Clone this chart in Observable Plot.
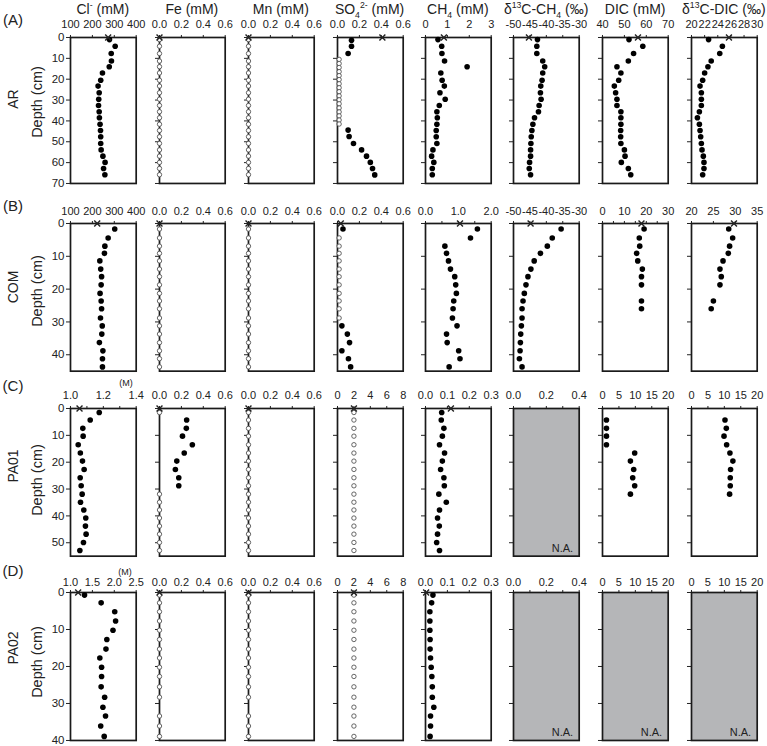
<!DOCTYPE html>
<html><head><meta charset="utf-8">
<script src="https://cdn.jsdelivr.net/npm/d3@7"></script>
<script src="https://cdn.jsdelivr.net/npm/@observablehq/plot@0.6"></script>
<style>
body{margin:0;background:#fff;font-family:"Liberation Sans",Arial,sans-serif;}
#root{position:relative;width:767px;height:746px;overflow:hidden;background:#fff;}
.abs{position:absolute;white-space:nowrap;color:#222;line-height:1;}
.rot{transform:translate(-50%,-50%) rotate(-90deg);}
.ctr{transform:translate(-50%,-50%);}
sup,sub{font-size:0.62em;line-height:0;}
</style></head><body><div id="root"></div>
<script>
// ---------- data ----------
const titles = ["Cl<sup>-</sup> (mM)","Fe (mM)","Mn (mM)","SO<sub>4</sub><sup>2-</sup> (mM)","CH<sub>4</sub> (mM)","δ<sup>13</sup>C-CH<sub>4</sub> (‰)","DIC (mM)","δ<sup>13</sup>C-DIC (‰)"];
const rowLetters = ["(A)","(B)","(C)","(D)"];
const stations = ["AR","COM","PA01","PA02"];

// AR
const depthAR = [1,4.2,7.7,11.3,14,17,20.5,23.3,26.5,29.6,32.6,35.6,38.5,41.6,44.6,47.6,50.8,53.9,56.9,59.9,62.8,65.8];
const clAR = [278,304,286,287,277,246,238,226,231,229,228,231,232,235,237,238,238,240,248,258,251,257];
const so4ARupperDepth = [1.3,4.2,7.7];
const so4ARupper = [0.128,0.128,0.097];
const so4ARopenDepth = [10.5,12.5,14.4,16.4,18.3,20.2,22.2,24.1,26,28,29.9,31.8,33.8,35.7,37.6,39.6,41.5];
const so4ARlowerDepth = [44.4,47.5,50.8,53.9,56.9,59.9,62.8,65.9];
const so4ARlower = [0.097,0.106,0.146,0.22,0.265,0.30,0.32,0.34];
const ch4AR = [0.57,0.74,0.75,0.87,1.9,0.70,0.76,0.86,0.66,0.90,0.63,0.52,0.54,0.52,0.49,0.49,0.52,0.34,0.28,0.38,0.31,0.31];
const d13ch4AR = [-42.7,-42.9,-42.9,-41.1,-40.5,-41.1,-41.3,-41.7,-41.8,-41.6,-42.2,-42.4,-43.6,-44.1,-44.4,-44.6,-44.7,-44.8,-44.8,-45.1,-45.2,-44.8];
const dicAR = [52.1,58.4,54.2,51.8,46.6,48.4,47.4,45.4,46,46.6,46.6,48.4,48.4,48.4,48.3,48.3,48.4,50,50.3,48.6,51.8,52.9];
const d13dicAR = [22.6,24.7,24.3,23,22.5,22,21.7,21.3,21.5,21.5,21.5,21.2,20.9,21.2,21.3,21.4,21.5,21.6,21.8,21.9,21.9,21.7];
const surfAR = [272,0,0,0.41,0.84,-45.3,56.2,25.7];

// COM
const depthCOM = [1.7,4.4,6.9,9.1,11.4,13.9,16.2,18.7,21.3,23.6,26,28.8,31.2,33.7,36.3,38.8,41.2,43.7];
const clCOM = [302,272,257,255,234,238,242,240,235,240,242,237,245,243,232,248,246,246];
const so4COMdepth = [1.7,31.2,33.7,36.3,38.8,41.2,43.7];
const so4COM = [0.05,0.04,0.09,0.11,0.04,0.10,0.12];
const so4COMopenDepth = [4.4,6.9,9.1,11.4,13.9,16.2,18.7,21.3,23.6,26,28.8];
const ch4COM = [1.58,1.37,0.59,0.64,0.70,0.76,0.89,0.92,0.94,0.86,0.84,0.82,0.96,0.64,0.66,1.01,1.05,0.72];
const d13ch4COM = [-35.5,-38.2,-39.7,-41.8,-43.7,-44.7,-45.6,-46.2,-46.7,-47.1,-47.4,-47.4,-47.6,-47.8,-47.9,-48,-48.2,-47.4];
const dicCOMdepth = [1.7,4.4,6.9,9.1,11.4,13.9,16.2,18.7,23.6,26];
const dicCOM = [19,16.8,17,15.6,16.1,18.2,17.8,17.8,17.8,17.8];
const d13dicCOM = [28.5,29.4,28.7,28.4,27.2,26.5,26.8,26.5,25,24.5];
const surfCOM = [222,0,0,0.03,1.05,-44.8,17.8,29.7];

// PA01 (Cl in M)
const depthPA01 = [1.5,4.3,7.4,10.3,13.5,16.6,19.6,22.7,25.8,28.8,31.9,34.9,37.8,40.8,43.8,46.8,49.9,52.9];
const clPA01 = [1.175,1.12,1.075,1.077,1.047,1.06,1.073,1.083,1.059,1.065,1.071,1.061,1.081,1.093,1.091,1.095,1.079,1.057];
const fePA01depth = [4.3,7.4,10.3,13.5,16.6,19.6,22.7,25.8,28.8];
const fePA01 = [0.248,0.245,0.21,0.30,0.226,0.158,0.145,0.176,0.176];
const fePA01openDepth = [1.5,31.9,34.9,37.8,40.8,43.8,46.8,49.9,52.9];
const ch4PA01 = [0.074,0.072,0.084,0.077,0.064,0.087,0.077,0.069,0.084,0.086,0.061,0.095,0.064,0.055,0.063,0.055,0.051,0.064];
const dicPA01depth = [4.3,7.4,10.3,13.5,16.6,19.6,22.7,25.8,28.8,31.9];
const dicPA01 = [1.2,1.2,1.2,1.2,9.8,8.5,9.5,9.2,9.8,8.5];
const d13dicPA01 = [10.2,10.6,9.9,10.7,11.7,12.6,11.9,11.8,11.8,11.6];
const surfPA01 = [1.055,0,0,2,0.116,null,null,null];

// PA02 (Cl in M)
const depthPA02 = [0.7,2.8,5.2,7.7,10.2,12.7,15.3,17.7,20.2,22.7,25.5,28.3,31,33.4,36.1,38.9];
const clPA02 = [1.32,1.70,2.01,2.03,1.97,1.83,1.81,1.67,1.71,1.71,1.70,1.78,1.74,1.80,1.69,1.77];
const feMnPA02openDepth = [0.7,2.8,5.2,7.7,10.2,12.7,15.3,17.7,20.2,22.7,25.5,28.3,33.4,36.1,38.9];
const ch4PA02 = [0.034,0.028,0.02,0.02,0.02,0.021,0.021,0.023,0.026,0.029,0.031,0.031,0.038,0.023,0.023,0.021];
const surfPA02 = [1.175,0,0,2,0.003,null,null,null];

const so4DetLimitLow = 0.015;   // open-circle position in mM panels (A, B)
const so4DetLimitHigh = 2;      // open-circle position in C, D

// ---------- layout ----------
const colLeft = [70,159,248,336.7,425,513.3,602.3,691];
const panelW = 65.7;
const rowTop = [37.3,223.3,408.3,592.3];
const rowH = [146,147.7,147.7,148];
const rowMax = [70,45,55,40];
const rowPad = [6,5,6.5,3];
const yTicks = [[0,10,20,30,40,50,60,70],[0,10,20,30,40],[0,10,20,30,40,50],[0,10,20,30,40]];

const root = document.getElementById("root");
const pts = (vals, depths) => vals.map((v,i)=>({v, d: depths[i]}));
const at = (v, depths) => depths.map(d=>({v, d}));
const f1 = d => d.toFixed(1), f0 = d => String(d);

function addText(html, x, y, cls, size, extra="") {
  const el = document.createElement("div");
  el.className = "abs " + cls;
  el.style.left = x + "px"; el.style.top = y + "px"; el.style.fontSize = size + "px";
  if (extra) el.style.cssText += extra;
  el.innerHTML = html;
  root.appendChild(el);
}

function panel(o) {
  const {row, col, domain, ticks, minor = [], fmt, filled = [], open = [], cross = null, na = false} = o;
  const ml = col === 0 ? 34 : 8, mr = 4, mt = 32, mb = 4;
  const marks = [];
  if (na) marks.push(Plot.frame({fill: "#b5b6b8", stroke: null}));
  marks.push(Plot.axisY({ticks: yTicks[row], tickSize: 4, tickPadding: 2, fontSize: 11.5,
    tickFormat: col === 0 ? d => String(d) : () => "", label: null}));
  const allTicks = ticks.concat(minor);
  marks.push(Plot.axisX({anchor: "top", ticks: allTicks, tickSize: 3, tickPadding: rowPad[row], fontSize: 11,
    tickFormat: d => ticks.includes(d) ? fmt(d) : "", label: null}));
  marks.push(Plot.frame({stroke: "#1a1a1a", strokeWidth: 1.7}));
  if (open.length) marks.push(Plot.dot(open, {x: "v", y: "d", r: 2.2, stroke: "#555", strokeWidth: 0.9, fill: "white"}));
  if (filled.length) marks.push(Plot.dot(filled, {x: "v", y: "d", r: 2.8, fill: "#000"}));
  if (cross != null) marks.push(Plot.dot([{v: cross, d: 0}], {x: "v", y: "d", symbol: "times", r: 2.8, stroke: "#222", strokeWidth: 1.4}));
  if (na) marks.push(Plot.text(["N.A."], {frameAnchor: "bottom-right", dx: -6, dy: -4, fontSize: 11, fill: "#222"}));
  const svg = Plot.plot({
    width: panelW + ml + mr, height: rowH[row] + mt + mb,
    marginLeft: ml, marginRight: mr, marginTop: mt, marginBottom: mb,
    x: {domain}, y: {domain: [0, rowMax[row]], reverse: true},
    style: {fontFamily: "'Liberation Sans', Arial, sans-serif", color: "#222", background: "transparent", overflow: "visible"},
    marks
  });
  svg.style.position = "absolute";
  svg.style.left = (colLeft[col] - ml) + "px";
  svg.style.top = (rowTop[row] - mt) + "px";
  root.appendChild(svg);
}

const mM06 = {domain: [0, 0.6], ticks: [0, 0.2, 0.4, 0.6], fmt: f1};
const d13CH4ax = {domain: [-50, -30], ticks: [-50, -45, -40, -35, -30], fmt: f0};
const na04 = {domain: [0, 0.4], ticks: [0, 0.2, 0.4], minor: [0.1, 0.3], fmt: f1, na: true};
const ax020 = {domain: [0, 20], ticks: [0, 5, 10, 15, 20], fmt: f0};
const so48 = {domain: [0, 8], ticks: [0, 2, 4, 6, 8], fmt: f0};
const ch403 = {domain: [0, 0.3], ticks: [0, 0.1, 0.2, 0.3], fmt: f1};

// Row A: AR
panel({row: 0, col: 0, domain: [100, 400], ticks: [100, 200, 300, 400], fmt: f0, filled: pts(clAR, depthAR), cross: surfAR[0]});
panel({row: 0, col: 1, ...mM06, open: at(0, depthAR), cross: surfAR[1]});
panel({row: 0, col: 2, ...mM06, open: at(0, depthAR), cross: surfAR[2]});
panel({row: 0, col: 3, ...mM06, filled: pts(so4ARupper, so4ARupperDepth).concat(pts(so4ARlower, so4ARlowerDepth)),
  open: at(so4DetLimitLow, so4ARopenDepth), cross: surfAR[3]});
panel({row: 0, col: 4, domain: [0, 3], ticks: [0, 1, 2, 3], fmt: f0, filled: pts(ch4AR, depthAR), cross: surfAR[4]});
panel({row: 0, col: 5, ...d13CH4ax, filled: pts(d13ch4AR, depthAR), cross: surfAR[5]});
panel({row: 0, col: 6, domain: [40, 70], ticks: [40, 50, 60, 70], fmt: f0, filled: pts(dicAR, depthAR), cross: surfAR[6]});
panel({row: 0, col: 7, domain: [20, 30], ticks: [20, 22, 24, 26, 28, 30], fmt: f0, filled: pts(d13dicAR, depthAR), cross: surfAR[7]});

// Row B: COM
panel({row: 1, col: 0, domain: [100, 400], ticks: [100, 200, 300, 400], fmt: f0, filled: pts(clCOM, depthCOM), cross: surfCOM[0]});
panel({row: 1, col: 1, ...mM06, open: at(0, depthCOM), cross: surfCOM[1]});
panel({row: 1, col: 2, ...mM06, open: at(0, depthCOM), cross: surfCOM[2]});
panel({row: 1, col: 3, ...mM06, filled: pts(so4COM, so4COMdepth), open: at(so4DetLimitLow, so4COMopenDepth), cross: surfCOM[3]});
panel({row: 1, col: 4, domain: [0, 2], ticks: [0, 1, 2], minor: [0.5, 1.5], fmt: f1, filled: pts(ch4COM, depthCOM), cross: surfCOM[4]});
panel({row: 1, col: 5, ...d13CH4ax, filled: pts(d13ch4COM, depthCOM), cross: surfCOM[5]});
panel({row: 1, col: 6, domain: [0, 30], ticks: [0, 10, 20, 30], minor: [5, 15, 25], fmt: f0, filled: pts(dicCOM, dicCOMdepth), cross: surfCOM[6]});
panel({row: 1, col: 7, domain: [20, 35], ticks: [20, 25, 30, 35], fmt: f0, filled: pts(d13dicCOM, dicCOMdepth), cross: surfCOM[7]});

// Row C: PA01
panel({row: 2, col: 0, domain: [1.0, 1.4], ticks: [1.0, 1.2, 1.4], minor: [1.1, 1.3], fmt: f1, filled: pts(clPA01, depthPA01), cross: surfPA01[0]});
panel({row: 2, col: 1, ...mM06, filled: pts(fePA01, fePA01depth), open: at(0, fePA01openDepth), cross: surfPA01[1]});
panel({row: 2, col: 2, ...mM06, open: at(0, depthPA01), cross: surfPA01[2]});
panel({row: 2, col: 3, ...so48, open: at(so4DetLimitHigh, depthPA01), cross: surfPA01[3]});
panel({row: 2, col: 4, ...ch403, filled: pts(ch4PA01, depthPA01), cross: surfPA01[4]});
panel({row: 2, col: 5, ...na04});
panel({row: 2, col: 6, ...ax020, filled: pts(dicPA01, dicPA01depth)});
panel({row: 2, col: 7, ...ax020, filled: pts(d13dicPA01, dicPA01depth)});

// Row D: PA02
panel({row: 3, col: 0, domain: [1.0, 2.5], ticks: [1.0, 1.5, 2.0, 2.5], fmt: f1, filled: pts(clPA02, depthPA02), cross: surfPA02[0]});
panel({row: 3, col: 1, ...mM06, open: at(0, feMnPA02openDepth), cross: surfPA02[1]});
panel({row: 3, col: 2, ...mM06, open: at(0, feMnPA02openDepth), cross: surfPA02[2]});
panel({row: 3, col: 3, ...so48, open: at(so4DetLimitHigh, depthPA02), cross: surfPA02[3]});
panel({row: 3, col: 4, ...ch403, filled: pts(ch4PA02, depthPA02), cross: surfPA02[4]});
panel({row: 3, col: 5, ...na04});
panel({row: 3, col: 6, ...ax020, na: true});
panel({row: 3, col: 7, ...ax020, na: true});

// ---------- titles & labels ----------
titles.forEach((t, i) => addText(t, colLeft[i] + panelW / 2, 8.5, "ctr", 14));
const letterY = [19, 205, 385, 570];
const stationY = [99, 287, 466, 648];
const depthY = [102, 291, 480, 662];
rowLetters.forEach((t, i) => addText(t, 13, letterY[i], "ctr", 15));
stations.forEach((t, i) => addText(t, 13, stationY[i], "rot", 14));
stations.forEach((t, i) => addText("Depth (cm)", 37, depthY[i], "rot", 14.5));
addText("(M)", 126, 383, "ctr", 9);
addText("(M)", 125, 572, "ctr", 9);
</script></body></html>
